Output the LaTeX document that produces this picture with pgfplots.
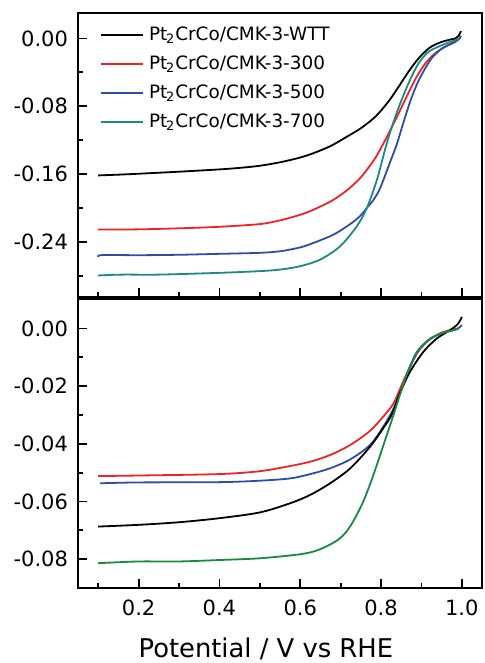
\documentclass[border=0pt]{standalone}
\usepackage{fontspec}
\setmainfont{DejaVu Sans}
\usepackage{pgfplots}
\pgfplotsset{compat=1.18}
\definecolor{cred}{HTML}{EE2228}
\definecolor{cblue}{HTML}{2F4DA3}
\definecolor{cteal}{HTML}{1B8A82}
\definecolor{cgreen}{HTML}{178A43}
\pgfplotsset{
  myaxis/.style={
    scale only axis, width=202pt,
    xmin=0.05, xmax=1.05,
    axis line style={line width=1pt},
    tick style={line width=0.9pt, black},
    tick align=inside,
    xtick pos=bottom, ytick pos=left,
    major tick length=4.5pt, minor tick length=2.5pt,
    xtick={0.2,0.4,0.6,0.8,1.0},
    minor xtick={0.1,0.3,0.5,0.7,0.9},
    /pgf/number format/assume math mode=true,
    tick label style={font=\fontsize{10.5}{12}\selectfont},
    yticklabel style={/pgf/number format/fixed, /pgf/number format/fixed zerofill, /pgf/number format/precision=2},
    xticklabel style={/pgf/number format/fixed, /pgf/number format/fixed zerofill, /pgf/number format/precision=1},
    every axis plot/.append style={line width=0.9pt, smooth, tension=0.5},
    scaled y ticks=false,
  }
}
\begin{document}
\begin{tikzpicture}
\path[use as bounding box] (0,0) rectangle (242pt,331.5pt);
\begin{axis}[myaxis,
  at={(39pt,183pt)}, anchor=south west, height=142pt,
  ymin=-0.305, ymax=0.03,
  ytick={0,-0.08,-0.16,-0.24},
  minor ytick={-0.04,-0.12,-0.2,-0.28},
  xticklabels={},
  yticklabel style={xshift=-1.5pt},
  legend cell align=left,
  legend image code/.code={\draw[#1] (0pt,0pt) -- (21pt,0pt);},
  legend style={draw=none, fill=none, at={(axis description cs:0.054,0.955)}, anchor=north west,
    font=\fontsize{9.2}{11}\selectfont, row sep=5.5pt, column sep=2.5pt, inner sep=0pt,
    nodes={inner sep=0pt, text height=7pt, text depth=2pt}},
]
\addplot[black] coordinates {(0.100,-0.1616)(0.150,-0.1607)(0.200,-0.1596)(0.300,-0.1572)(0.400,-0.1545)(0.450,-0.1527)(0.500,-0.1502)(0.551,-0.1460)(0.600,-0.1405)(0.633,-0.1353)(0.675,-0.1270)(0.716,-0.1158)(0.750,-0.1060)(0.782,-0.0941)(0.802,-0.0840)(0.823,-0.0715)(0.845,-0.0560)(0.868,-0.0393)(0.893,-0.0235)(0.918,-0.0118)(0.935,-0.0070)(0.951,-0.0040)(0.970,-0.0015)(0.984,0.0000)(0.992,0.0030)(0.998,0.0086)};
\addlegendentry{Pt\kern-0.6pt\textsubscript{2}CrCo/CMK-3-WTT}
\addplot[cred] coordinates {(0.100,-0.2255)(0.200,-0.2252)(0.300,-0.2240)(0.400,-0.2222)(0.500,-0.2190)(0.551,-0.2145)(0.600,-0.2080)(0.633,-0.2020)(0.680,-0.1910)(0.716,-0.1790)(0.745,-0.1665)(0.765,-0.1550)(0.786,-0.1410)(0.806,-0.1240)(0.823,-0.1080)(0.840,-0.0920)(0.860,-0.0720)(0.885,-0.0480)(0.910,-0.0294)(0.934,-0.0176)(0.959,-0.0099)(0.984,-0.0040)(0.997,0.0010)};
\addlegendentry{Pt\kern-0.6pt\textsubscript{2}CrCo/CMK-3-300}
\addplot[cblue] coordinates {(0.100,-0.2577)(0.110,-0.2555)(0.200,-0.2557)(0.300,-0.2552)(0.400,-0.2541)(0.500,-0.2529)(0.551,-0.2510)(0.600,-0.2465)(0.633,-0.2412)(0.680,-0.2320)(0.716,-0.2216)(0.745,-0.2110)(0.765,-0.2000)(0.782,-0.1900)(0.798,-0.1765)(0.823,-0.1452)(0.839,-0.1250)(0.855,-0.1000)(0.874,-0.0720)(0.890,-0.0530)(0.905,-0.0390)(0.926,-0.0230)(0.951,-0.0118)(0.975,-0.0059)(0.990,-0.0020)(0.998,0.0030)};
\addlegendentry{Pt\kern-0.6pt\textsubscript{2}CrCo/CMK-3-500}
\addplot[cteal] coordinates {(0.100,-0.2796)(0.160,-0.2786)(0.250,-0.2786)(0.400,-0.2765)(0.500,-0.2745)(0.551,-0.2726)(0.600,-0.2687)(0.650,-0.2608)(0.699,-0.2451)(0.740,-0.2216)(0.765,-0.2000)(0.790,-0.1667)(0.810,-0.1310)(0.823,-0.1100)(0.843,-0.0824)(0.868,-0.0530)(0.893,-0.0294)(0.918,-0.0157)(0.951,-0.0079)(0.984,-0.0020)(0.995,0.0000)};
\addlegendentry{Pt\kern-0.6pt\textsubscript{2}CrCo/CMK-3-700}
\end{axis}
\begin{axis}[myaxis,
  at={(39pt,37.5pt)}, anchor=south west, height=144.5pt,
  ymin=-0.09, ymax=0.0102,
  ytick={0,-0.02,-0.04,-0.06,-0.08},
  minor ytick={0.01,-0.01,-0.03,-0.05,-0.07},
  xlabel={Potential / V vs RHE},
  xlabel style={at={(axis description cs:0.465,0)}, anchor=base, yshift=-34.5pt, font=\fontsize{12.9}{15}\selectfont},
  xticklabel style={yshift=-2.5pt},
  yticklabel style={xshift=-1.5pt},
]
\addplot[cred] coordinates {(0.100,-0.0512)(0.200,-0.0510)(0.400,-0.0505)(0.500,-0.0495)(0.5755,-0.0477)(0.625,-0.0462)(0.674,-0.0439)(0.724,-0.0404)(0.773,-0.0355)(0.806,-0.0305)(0.831,-0.0260)(0.850,-0.0200)(0.864,-0.0156)(0.889,-0.0087)(0.914,-0.0046)(0.946,-0.0017)(0.971,-0.0006)(0.993,0.0000)};
\addplot[cblue] coordinates {(0.105,-0.0537)(0.200,-0.0534)(0.400,-0.0533)(0.500,-0.0528)(0.5755,-0.0520)(0.625,-0.0505)(0.674,-0.0485)(0.724,-0.0454)(0.773,-0.0404)(0.806,-0.0340)(0.831,-0.0278)(0.850,-0.0215)(0.870,-0.0140)(0.889,-0.0081)(0.922,-0.0035)(0.955,-0.0015)(0.988,-0.0003)(1.000,0.0012)};
\addplot[black] coordinates {(0.100,-0.0687)(0.200,-0.0681)(0.300,-0.0672)(0.400,-0.0658)(0.500,-0.0638)(0.5755,-0.0606)(0.625,-0.0577)(0.674,-0.0537)(0.724,-0.0485)(0.773,-0.0410)(0.806,-0.0345)(0.827,-0.0298)(0.845,-0.0230)(0.872,-0.0150)(0.905,-0.0081)(0.938,-0.0035)(0.971,-0.0006)(0.990,0.0015)(1.000,0.0040)};
\addplot[cgreen] coordinates {(0.100,-0.0814)(0.200,-0.0808)(0.300,-0.0808)(0.400,-0.0803)(0.500,-0.0797)(0.600,-0.0783)(0.645,-0.0768)(0.687,-0.0739)(0.710,-0.0712)(0.730,-0.0672)(0.753,-0.0610)(0.769,-0.0555)(0.782,-0.0505)(0.806,-0.0405)(0.831,-0.0300)(0.848,-0.0225)(0.872,-0.0130)(0.898,-0.0066)(0.930,-0.0029)(0.963,-0.0012)(0.993,0.0000)};
\end{axis}
\end{tikzpicture}
\end{document}
